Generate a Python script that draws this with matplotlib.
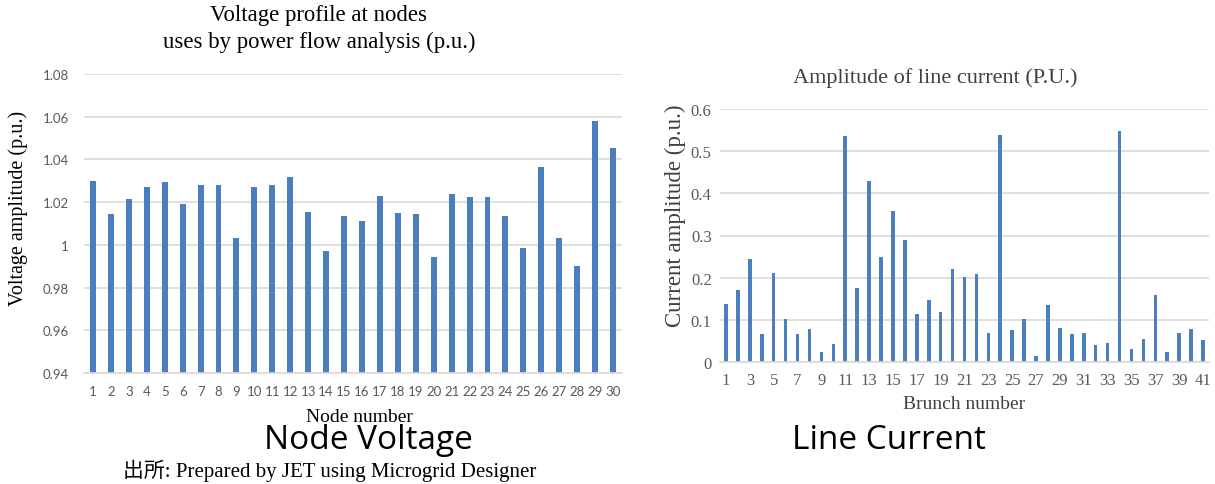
import matplotlib
matplotlib.use("Agg")
import matplotlib.pyplot as plt
import numpy as np

# ---- data ----
node_numbers = list(range(1, 31))
node_voltage = [1.030, 1.0145, 1.0214, 1.0272, 1.0293, 1.019, 1.0282, 1.0282, 1.0032, 1.0272,
                1.0282, 1.0317, 1.0152, 0.9969, 1.0133, 1.011, 1.0229, 1.015, 1.0144, 0.9941,
                1.024, 1.0223, 1.0223, 1.0133, 0.9983, 1.0365, 1.003, 0.990, 1.058, 1.0455]
voltage_ticks = [0.94, 0.96, 0.98, 1.0, 1.02, 1.04, 1.06, 1.08]
voltage_ticklabels = ["0.94", "0.96", "0.98", "1", "1.02", "1.04", "1.06", "1.08"]

branch_numbers = list(range(1, 42))
line_current = [0.138, 0.170, 0.245, 0.066, 0.211, 0.101, 0.066, 0.078, 0.024, 0.043,
                0.535, 0.176, 0.429, 0.250, 0.357, 0.290, 0.114, 0.147, 0.118, 0.221,
                0.201, 0.208, 0.069, 0.538, 0.075, 0.101, 0.014, 0.135, 0.081, 0.066,
                0.069, 0.041, 0.046, 0.549, 0.032, 0.055, 0.159, 0.024, 0.069, 0.079,
                0.052]
current_ticks = [0, 0.1, 0.2, 0.3, 0.4, 0.5, 0.6]
current_ticklabels = ["0", "0.1", "0.2", "0.3", "0.4", "0.5", "0.6"]

BAR = "#4a7ebf"
GRID = "#d9d9d9"
TICK = "#595959"
SERIF = ["Liberation Serif", "DejaVu Serif"]

W, H = 1215, 485
fig = plt.figure(figsize=(W / 100, H / 100), dpi=100)

def px_axes(x0, y0, x1, y1):
    return fig.add_axes([x0 / W, 1 - y1 / H, (x1 - x0) / W, (y1 - y0) / H])

# ---- left chart ----
x0, y0, x1, y1 = 84, 75, 622, 374
ax1 = px_axes(x0, y0, x1, y1)
ax1.bar(node_numbers, node_voltage, width=0.33, color=BAR)
ax1.set_ylim(0.94, 1.08)
ax1.set_xlim(0.5, 30.5)
ax1.set_yticks(voltage_ticks)
ax1.set_yticklabels(voltage_ticklabels, family="Lato", fontsize=9.5, color=TICK)
ax1.set_xticks(node_numbers)
ax1.set_xticklabels([str(n) for n in node_numbers], family="Lato", fontsize=9.5, color=TICK)
ax1.yaxis.grid(True, color=GRID, linewidth=1.2)
ax1.set_axisbelow(True)
for s in ["top", "right", "left"]:
    ax1.spines[s].set_visible(False)
ax1.spines["bottom"].set_color(GRID)
ax1.spines["bottom"].set_linewidth(1.2)
ax1.tick_params(axis="y", length=0, pad=11)
ax1.tick_params(axis="x", length=0, pad=9)
ax1.set_ylabel("Voltage amplitude (p.u.)", family=SERIF, fontsize=14.5)
ax1.yaxis.set_label_coords((28 - x0) / (x1 - x0), (y1 - 208) / (y1 - y0))
ax1.set_xlabel("Node number", family=SERIF, fontsize=14)
ax1.xaxis.set_label_coords((359 - x0) / (x1 - x0), (y1 - 418) / (y1 - y0))
ax1.xaxis.label.set_va("center")
ax1.set_title("Voltage profile at nodes\nuses by power flow analysis (p.u.)",
              family=SERIF, fontsize=16.4, linespacing=1.4, pad=0,
              x=(319 - x0) / (x1 - x0), y=(y1 - 29) / (y1 - y0), va="center")

# ---- right chart ----
x0, y0, x1, y1 = 720, 110, 1209, 363
ax2 = px_axes(x0, y0, x1, y1)
ax2.bar(branch_numbers, line_current, width=0.3, color=BAR)
ax2.set_ylim(0, 0.6)
ax2.set_xlim(0.5, 41.5)
ax2.set_yticks(current_ticks)
ax2.set_yticklabels(current_ticklabels, family=SERIF, fontsize=12, color=TICK)
odd = branch_numbers[::2]
ax2.set_xticks(odd)
ax2.set_xticklabels([str(n) for n in odd], family=SERIF, fontsize=12, color=TICK)
ax2.yaxis.grid(True, color=GRID, linewidth=1.2)
ax2.set_axisbelow(True)
for s in ["top", "right", "left"]:
    ax2.spines[s].set_visible(False)
ax2.spines["bottom"].set_color(GRID)
ax2.spines["bottom"].set_linewidth(1.2)
ax2.tick_params(axis="y", length=0, pad=6)
ax2.tick_params(axis="x", length=0, pad=7)
ax2.set_ylabel("Current amplitude (p.u.)", family=SERIF, fontsize=16.5, color="#404040")
ax2.yaxis.set_label_coords((686 - x0) / (x1 - x0), (y1 - 216) / (y1 - y0))
ax2.set_xlabel("Brunch number", family=SERIF, fontsize=14, color="#404040")
ax2.xaxis.set_label_coords((964 - x0) / (x1 - x0), (y1 - 405) / (y1 - y0))
ax2.xaxis.label.set_va("center")
ax2.set_title("Amplitude of line current (P.U.)", family=SERIF, fontsize=16, color="#404040",
              pad=0, x=(935 - x0) / (x1 - x0), y=(y1 - 78) / (y1 - y0), va="center")

# ---- captions ----
fig.text(368 / W, 1 - 441 / H, "Node Voltage", family="Open Sans", fontsize=24,
         ha="center", va="center")
fig.text(889 / W, 1 - 441 / H, "Line Current", family="Open Sans", fontsize=24,
         ha="center", va="center")
fig.text(330 / W, 1 - 471 / H, "出所: Prepared by JET using Microgrid Designer",
         family=["Liberation Serif", "Noto Sans CJK JP"], fontsize=15,
         ha="center", va="center")

fig.savefig("out.png", dpi=100)
